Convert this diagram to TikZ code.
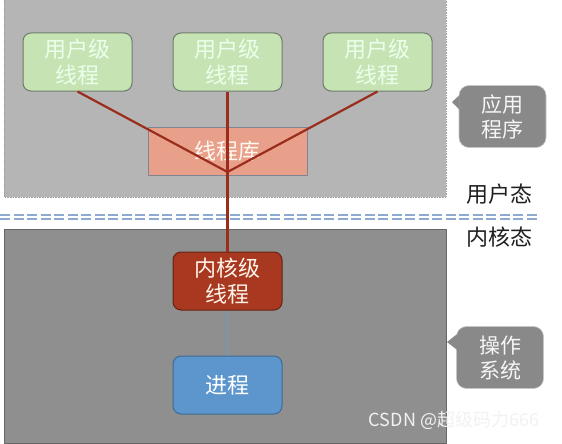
\documentclass[tikz,border=0pt]{standalone}
\usepackage{fontspec}
\newfontfamily\cjk{Noto Sans CJK SC}
\usetikzlibrary{positioning}

\definecolor{upgray}{HTML}{B5B5B5}
\definecolor{lowgray}{HTML}{8F8F8F}
\definecolor{ulgreen}{HTML}{C6E3B4}
\definecolor{ulborder}{HTML}{6E7C6B}
\definecolor{libsalmon}{HTML}{E9A08A}
\definecolor{libborder}{HTML}{7F8592}
\definecolor{kred}{HTML}{A8381F}
\definecolor{pblue}{HTML}{5C96CC}
\definecolor{linkred}{HTML}{9A2D1B}
\definecolor{linkblue}{HTML}{6A9BCB}
\definecolor{sepblue}{HTML}{8FAAD0}
\definecolor{bubgray}{HTML}{898989}

\begin{document}
\begin{tikzpicture}[
  x=1pt,y=-1pt,
  line join=round,
  box/.style={minimum width=109pt,minimum height=58pt,rounded corners=8pt,
    align=center,inner sep=0pt,line width=1pt,
    font=\cjk\fontsize{22}{26}\selectfont},
  ult/.style={box,fill=ulgreen,draw=ulborder,text=white!92!green},
  kth/.style={box,fill=kred,draw=kred!60!black,text=orange!8},
  proc/.style={box,fill=pblue,draw=pblue!70!black,text=white},
  lib/.style={fill=libsalmon,draw=libborder,line width=0.8pt,
    minimum width=159pt,minimum height=48pt,inner sep=0pt,
    text=white!95!orange,font=\cjk\fontsize{22}{26}\selectfont},
  link/.style={draw=linkred,line width=2.2pt},
  bubble/.style={fill=bubgray,draw=gray!45,line width=0.6pt,rounded corners=10pt,
    minimum width=87pt,minimum height=62pt,align=center,inner sep=0pt,
    text=white!93!gray,font=\cjk\fontsize{21}{25}\selectfont},
  mode/.style={text=black!88,font=\cjk\fontsize{22}{24}\selectfont},
  sep/.style={draw=sepblue,line width=1.5pt,dash pattern=on 10pt off 3.5pt}
]
\useasboundingbox (0,0) rectangle (562,444);
\fill[white] (0,0) rectangle (562,444);

% user space region
\fill[upgray] (4,-2) rectangle (446,197);
\draw[gray!75,line width=0.6pt,densely dotted] (4,-2) rectangle (446,197);

% kernel space region
\fill[lowgray] (4,229) rectangle (446,443);
\draw[gray!80!black,line width=0.8pt] (4,229) rectangle (446,443);

% user/kernel boundary
\draw[sep] (0,215) -- (537,215);
\draw[sep] (0,219) -- (537,219);

% user level threads
\node[ult] (u1) at (77.5,62) {用户级\\线程};
\node[ult] (u2) at (227.5,62) {用户级\\线程};
\node[ult] (u3) at (377.5,62) {用户级\\线程};

% thread library
\node[lib] (tlib) at (227.5,151) {线程库};
\coordinate (hub) at (227.5,172);

% kernel level thread and process
\node[kth] (kt) at (227.5,281) {内核级\\线程};
\node[proc] (pr) at (227.5,385) {进程};

\draw[link] (u1.south) -- (hub);
\draw[link] (u2.south) -- (hub);
\draw[link] (u3.south) -- (hub);
\draw[link] (hub) -- (kt.north);
\draw[draw=linkblue,line width=1.5pt] (kt.south) -- (pr.north);

% callouts
\node[bubble] (app) at (502.5,116.5) {应用\\程序};
\fill[bubgray] ([xshift=1pt,yshift=21.5pt]app.west) -- (452,102) -- ([xshift=1pt,yshift=6.5pt]app.west) -- cycle;
\node[bubble] (os) at (500,357.5) {操作\\系统};
\fill[bubgray] ([xshift=1pt,yshift=23.5pt]os.west) -- (447,342) -- ([xshift=1pt,yshift=7.5pt]os.west) -- cycle;

% mode labels
\node[mode] (um) at (499,194) {用户态};
\node[mode] (km) at (499,237) {内核态};

% watermark
\node[text=white!90!gray,font=\cjk\fontsize{18}{20}\selectfont] (wm) at (454,420) {CSDN @超级码力666};

\end{tikzpicture}
\end{document}
